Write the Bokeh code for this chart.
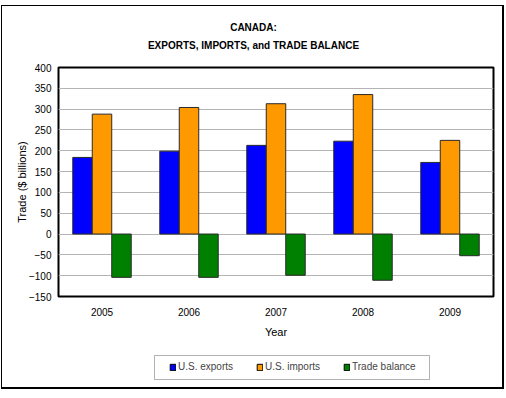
from bokeh.plotting import figure
from bokeh.layouts import column
from bokeh.models import (ColumnDataSource, FactorRange, Range1d, Legend, LegendItem,
                          FixedTicker, BoxAnnotation, Label)
from bokeh.transform import dodge
from bokeh.embed import file_html
from bokeh.resources import INLINE

years = ["2005", "2006", "2007", "2008", "2009"]
us_exports = [184, 199, 213, 223, 172]
us_imports = [288, 304, 313, 335, 225]
trade_balance = [-104, -104, -99, -111, -52]
series_names = ["U.S. exports", "U.S. imports", "Trade balance"]
series_colors = ["#0000FF", "#FF9900", "#008000"]
y_ticks = [-150, -100, -50, 0, 50, 100, 150, 200, 250, 300, 350, 400]
title_lines = ["CANADA:", "EXPORTS, IMPORTS, and TRADE BALANCE"]

FONT = "Liberation Sans"

src = ColumnDataSource(dict(year=years, exp=us_exports, imp=us_imports, bal=trade_balance))
xr = FactorRange(*years, range_padding=0)


def strip(height):
    f = figure(width=503, height=height, x_range=xr, y_range=Range1d(1000, 1001),
               output_backend="svg", toolbar_location=None,
               min_border_left=0, min_border_right=0, min_border_top=0, min_border_bottom=0,
               border_fill_color=None, background_fill_color=None, outline_line_color=None)
    f.xaxis.visible = False
    f.yaxis.visible = False
    f.grid.visible = False
    return f


# title strip
tf = strip(55)
for txt, yy in zip(title_lines, (33, 15)):
    tf.add_layout(Label(x=195, y=yy, x_units="screen", y_units="screen", text=txt,
                        text_font=FONT, text_font_size="10px", text_font_style="bold",
                        text_color="#000000", text_align="center", text_baseline="middle"))

# main chart
p = figure(width=503, height=285, x_range=xr, y_range=Range1d(-150, 400),
           output_backend="svg", toolbar_location=None,
           min_border_left=57, min_border_right=11, min_border_top=7, min_border_bottom=49,
           border_fill_color=None, background_fill_color="white")
p.outline_line_color = "#000000"
p.outline_line_width = 2

w = 0.224
cols = ["exp", "imp", "bal"]
offsets = [-w, 0, w]
for c, off, col in zip(cols, offsets, series_colors):
    p.vbar(x=dodge("year", off, range=xr), top=c, bottom=0, width=w, source=src,
           fill_color=col, line_color="#2a2a2a", line_width=1)

p.xgrid.grid_line_color = None
p.ygrid.grid_line_color = "#B4B4B4"
p.ygrid.grid_line_width = 1
p.yaxis.ticker = FixedTicker(ticks=y_ticks)

for ax in (p.xaxis[0], p.yaxis[0]):
    ax.axis_line_color = None
    ax.major_tick_line_color = None
    ax.minor_tick_line_color = None
    ax.major_tick_out = 0
    ax.major_tick_in = 0
    ax.major_label_text_font = FONT
    ax.major_label_text_font_size = "10px"
    ax.major_label_text_color = "#000000"
    ax.axis_label_text_font = FONT
    ax.axis_label_text_font_size = "11px"
    ax.axis_label_text_font_style = "normal"
    ax.axis_label_text_color = "#000000"

p.yaxis.axis_label = "Trade ($ billions)"
p.yaxis.major_label_standoff = 7
p.yaxis.axis_label_standoff = -2
p.xaxis.axis_label = "Year"
p.xaxis.major_label_standoff = 11
p.xaxis.axis_label_standoff = 7

# legend strip
lf = strip(44)
lf.add_layout(BoxAnnotation(left=96, right=371, bottom=10, top=34,
                            left_units="screen", right_units="screen",
                            top_units="screen", bottom_units="screen",
                            fill_color="white", fill_alpha=1.0,
                            line_color="#000000", line_width=1))
items = []
for name, c, off, col in zip(series_names, cols, offsets, series_colors):
    r = lf.vbar(x=dodge("year", off, range=xr), top=c, bottom=0, width=w, source=src,
                fill_color=col, line_color="#000000", line_width=1)
    items.append(LegendItem(label=name, renderers=[r]))
legend = Legend(items=items, orientation="horizontal", location=(111, 17),
                border_line_color=None, background_fill_color=None,
                label_text_font=FONT, label_text_font_size="10px",
                glyph_width=7, glyph_height=8, spacing=23, padding=0,
                label_standoff=2, margin=0, label_height=10)
lf.add_layout(legend, "center")

layout = column(tf, p, lf, spacing=0,
                styles={"margin-left": "1px", "margin-top": "5px",
                        "box-shadow": "inset 1px 1px 0 #000, inset -2px -2px 0 #000"})

open("out.html", "w").write(file_html(layout, INLINE))
